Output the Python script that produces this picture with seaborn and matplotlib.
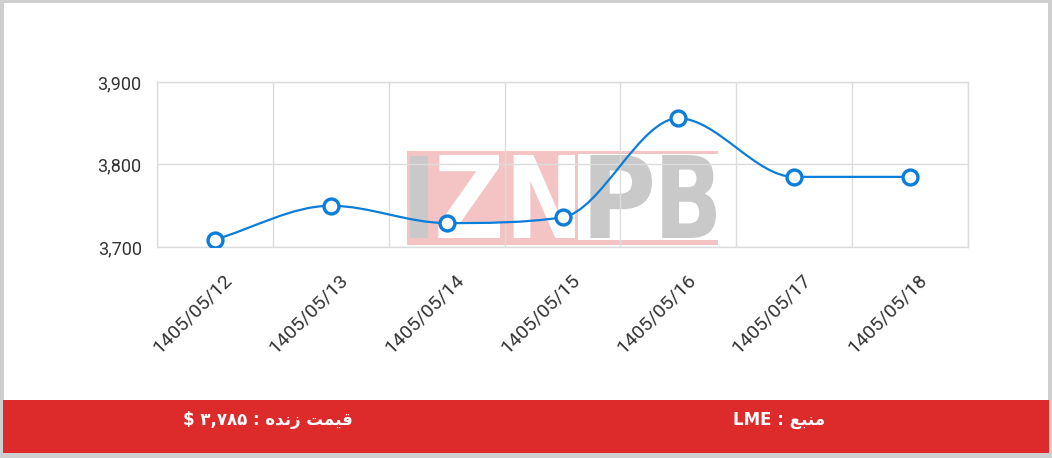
import numpy as np
import matplotlib
matplotlib.use("Agg")
import matplotlib.pyplot as plt
import seaborn as sns
from matplotlib.path import Path
from matplotlib.patches import PathPatch, Rectangle
from matplotlib.textpath import TextPath
from matplotlib.font_manager import FontProperties
from matplotlib.transforms import ScaledTranslation

# ---------------- data ----------------
dates = ["1405/05/12", "1405/05/13", "1405/05/14", "1405/05/15",
         "1405/05/16", "1405/05/17", "1405/05/18"]
prices = [3709, 3750, 3729, 3736, 3856, 3785, 3785]
y_ticks = [3700, 3800, 3900]
live_label = "قیمت زنده : ۳,۷۸۵ $"
source_label = "منبع : LME"

blue = "#0b7dda"
red = "#dd2a2a"
grid_c = "#dcdcdc"
text_c = "#333333"

W, H = 1052, 458
def fx(px): return px / W
def fy(py): return 1 - py / H

# ---------------- tiny persian shaper (matplotlib has no shaping) ----------------
forms = {  # iso, fin, ini, med
    "ق": "\uFED5\uFED6\uFED7\uFED8", "ی": "\uFBFC\uFBFD\uFBFE\uFBFF",
    "م": "\uFEE1\uFEE2\uFEE3\uFEE4", "ت": "\uFE95\uFE96\uFE97\uFE98",
    "ن": "\uFEE5\uFEE6\uFEE7\uFEE8", "ه": "\uFEE9\uFEEA\uFEEB\uFEEC",
    "ب": "\uFE8F\uFE90\uFE91\uFE92", "ع": "\uFEC9\uFECA\uFECB\uFECC",
    "ز": "\uFEAF\uFEB0", "د": "\uFEA9\uFEAA",
}

def shape_word(w):
    if not any(c in forms for c in w):
        return w
    out = []
    for i, c in enumerate(w):
        f = forms[c]
        prev_joins = i > 0 and len(forms.get(w[i - 1], "")) == 4
        next_joins = len(f) == 4 and i < len(w) - 1 and w[i + 1] in forms
        idx = {(False, False): 0, (True, False): 1, (False, True): 2, (True, True): 3}[(prev_joins, next_joins)]
        out.append(f[idx])
    return "".join(reversed(out))

def rtl(text):
    return " ".join(shape_word(t) for t in reversed(text.split(" ")))

# ---------------- figure ----------------
sns.set_theme(style="white")
plt.rcParams["font.family"] = ["Roboto", "DejaVu Sans"]

fig = plt.figure(figsize=(W / 100, H / 100), dpi=100, facecolor="#cfcfcf")
fig.add_artist(Rectangle((fx(4), fy(453)), fx(1048) - fx(4), fy(3) - fy(453),
                         transform=fig.transFigure, facecolor="white", edgecolor="none", zorder=-5))

ax = fig.add_axes([fx(157), fy(247), fx(968) - fx(157), fy(82) - fy(247)])
ax.set_facecolor("white")

# watermark (IZNPB) behind grid
def wm_rect(x0, y0, x1, y1, c):
    ax.add_artist(Rectangle((fx(x0), fy(y1)), fx(x1) - fx(x0), fy(y0) - fy(y1),
                            transform=fig.transFigure, facecolor=c, edgecolor="none", zorder=0.2))

pink, grey = "#f4c4c4", "#c9c9c9"
wm_rect(407, 151, 578, 245, pink)
wm_rect(578, 151, 718, 154, pink)
wm_rect(578, 240, 718, 245, pink)
wm_rect(410, 156, 428, 238, grey)
fp = FontProperties(family="DejaVu Sans", weight="bold")
for letter, x0, x1, c in [("Z", 434, 500, "white"), ("N", 505, 575, "white"),
                          ("P", 581, 652, grey), ("B", 654, 716, grey)]:
    tp = TextPath((0, 0), letter, size=100, prop=fp)
    v = tp.vertices.copy()
    (vx0, vy0), (vx1, vy1) = v.min(axis=0), v.max(axis=0)
    v[:, 0] = fx(x0) + (v[:, 0] - vx0) / (vx1 - vx0) * (fx(x1) - fx(x0))
    v[:, 1] = fy(238) + (v[:, 1] - vy0) / (vy1 - vy0) * (fy(155) - fy(238))
    ax.add_artist(PathPatch(Path(v, tp.codes), transform=fig.transFigure,
                            facecolor=c, edgecolor="none", zorder=0.3))

# smooth monotone line through the points
xs = np.arange(len(prices), dtype=float)
ys = np.asarray(prices, dtype=float)
d = np.diff(ys)
m = np.zeros_like(ys)
m[0], m[-1] = d[0], d[-1]
for i in range(1, len(ys) - 1):
    if d[i - 1] * d[i] > 0:
        m[i] = (d[i - 1] + d[i]) / 2
for i in range(len(d)):
    if d[i] == 0:
        m[i] = m[i + 1] = 0
        continue
    a, b = m[i] / d[i], m[i + 1] / d[i]
    s = a * a + b * b
    if s > 9:
        t = 3 / np.sqrt(s)
        m[i], m[i + 1] = t * a * d[i], t * b * d[i]
verts = [(xs[0], ys[0])]
codes = [Path.MOVETO]
for i in range(len(d)):
    verts += [(xs[i] + 1 / 3, ys[i] + m[i] / 3),
              (xs[i + 1] - 1 / 3, ys[i + 1] - m[i + 1] / 3),
              (xs[i + 1], ys[i + 1])]
    codes += [Path.CURVE4] * 3
ax.add_patch(PathPatch(Path(verts, codes), facecolor="none", edgecolor=blue, lw=1.6, zorder=3))

sns.scatterplot(x=dates, y=prices, ax=ax, s=115, color="white", edgecolor=blue,
                linewidth=2.4, zorder=4, legend=False)

ax.set_xlim(-0.5, len(dates) - 0.5)
ax.set_ylim(y_ticks[0], y_ticks[-1])
ax.set_xticks(range(len(dates)))
ax.set_xticklabels(dates)
ax.set_xticks(np.arange(-0.5, len(dates), 1), minor=True)
ax.set_yticks(y_ticks)
ax.set_yticklabels([f"{v:,}" for v in y_ticks])
ax.set_axisbelow(True)
ax.grid(False)
ax.grid(True, which="minor", axis="x", color=grid_c, lw=1)
ax.grid(True, which="major", axis="y", color=grid_c, lw=1)
for sp in ax.spines.values():
    sp.set_color(grid_c)
    sp.set_linewidth(1)
ax.set_xlabel("")
ax.set_ylabel("")
ax.tick_params(which="both", length=0, colors=text_c)
ax.tick_params(axis="y", pad=11, labelsize=13)
ax.tick_params(axis="x", labelsize=14)
offset = ScaledTranslation(8 / 100, -19 / 100, fig.dpi_scale_trans)
for lab in ax.get_xticklabels():
    lab.set_rotation(45)
    lab.set_ha("right")
    lab.set_va("top")
    lab.set_rotation_mode("anchor")
    lab.set_transform(lab.get_transform() + offset)

# red bottom bar
fig.add_artist(Rectangle((fx(3), fy(453)), fx(1049) - fx(3), fy(400) - fy(453),
                         transform=fig.transFigure, facecolor=red, edgecolor="none", zorder=2))
fig.text(fx(268), fy(420), rtl(live_label), ha="center", va="center", color="white",
         fontsize=12, fontweight="bold", family=["DejaVu Sans"], zorder=3)
fig.text(fx(779), fy(420), rtl(source_label), ha="center", va="center", color="white",
         fontsize=12, fontweight="bold", family=["DejaVu Sans"], zorder=3)

fig.savefig("out.png", dpi=100, facecolor=fig.get_facecolor())
